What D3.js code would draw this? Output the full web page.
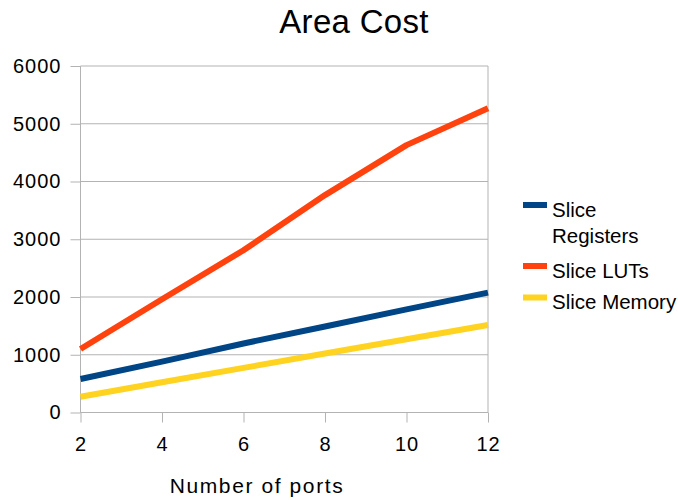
<!DOCTYPE html>
<html>
<head>
<meta charset="utf-8">
<script src="https://cdn.jsdelivr.net/npm/d3@7"></script>
<style>
  html, body { margin: 0; padding: 0; background: #fff; }
  svg { display: block; font-family: "Liberation Sans", Arial, sans-serif; }
</style>
</head>
<body>
<svg id="chart" width="678" height="500"></svg>
<script>
// Number of ports on the x axis
const ports = [2, 4, 6, 8, 10, 12];
// Resource usage per series
const sliceRegisters = [580, 880, 1195, 1490, 1785, 2075];
const sliceLUTs = [1100, 1960, 2810, 3765, 4630, 5270];
const sliceMemory = [272, 525, 772, 1022, 1268, 1515];
const seriesNames = ["Slice Registers", "Slice LUTs", "Slice Memory"];
const seriesColors = ["#004586", "#ff420e", "#ffd320"];
const yTicks = [0, 1000, 2000, 3000, 4000, 5000, 6000];

const series = [sliceRegisters, sliceLUTs, sliceMemory];

const svg = d3.select("#chart");
const plot = { left: 80.5, right: 488, top: 66, bottom: 412.5 };

const x = d3.scaleLinear().domain([2, 12]).range([plot.left, plot.right]);
const y = d3.scaleLinear().domain([0, 6000]).range([plot.bottom, plot.top]);

// Horizontal grid lines
svg.append("g")
  .selectAll("line")
  .data(yTicks)
  .join("line")
  .attr("x1", plot.left).attr("x2", plot.right)
  .attr("y1", d => y(d)).attr("y2", d => y(d))
  .attr("stroke", "#b3b3b3").attr("stroke-width", 1);

// Right border of the plot area
svg.append("line")
  .attr("x1", plot.right).attr("x2", plot.right)
  .attr("y1", plot.top).attr("y2", plot.bottom)
  .attr("stroke", "#b3b3b3");

// Y axis
const yAxis = svg.append("g")
  .attr("transform", `translate(${plot.left},0)`)
  .call(d3.axisLeft(y).tickValues(yTicks).tickSize(10).tickPadding(9).tickFormat(d3.format("d")));
yAxis.select(".domain").attr("stroke", "#b3b3b3").attr("d", `M0,${plot.top}V${plot.bottom}`);
yAxis.selectAll(".tick line").attr("stroke", "#b3b3b3");
yAxis.selectAll(".tick text")
  .attr("font-size", 20).attr("fill", "#000")
  .attr("letter-spacing", 1)
  .attr("font-family", "Liberation Sans, Arial, sans-serif");

// X axis
const xAxis = svg.append("g")
  .attr("transform", `translate(0,${plot.bottom})`)
  .call(d3.axisBottom(x).tickValues(ports).tickSize(10).tickPadding(14).tickFormat(d3.format("d")));
xAxis.select(".domain").attr("stroke", "#b3b3b3").attr("d", `M${plot.left},0H${plot.right}`);
xAxis.selectAll(".tick line").attr("stroke", "#b3b3b3");
xAxis.selectAll(".tick text")
  .attr("font-size", 20).attr("fill", "#000")
  .attr("letter-spacing", 1)
  .attr("font-family", "Liberation Sans, Arial, sans-serif");

// Series lines
const line = d3.line()
  .x((d, i) => x(ports[i]))
  .y(d => y(d));

svg.append("g")
  .selectAll("path")
  .data(series)
  .join("path")
  .attr("d", d => line(d))
  .attr("fill", "none")
  .attr("stroke", (d, i) => seriesColors[i])
  .attr("stroke-width", 6)
  .attr("stroke-linejoin", "round");

// Title
svg.append("text")
  .attr("x", 354).attr("y", 33)
  .attr("text-anchor", "middle")
  .attr("font-size", 33)
  .attr("letter-spacing", 0.3)
  .attr("fill", "#000")
  .text("Area Cost");

// X axis title
svg.append("text")
  .attr("x", 257).attr("y", 493)
  .attr("text-anchor", "middle")
  .attr("font-size", 21)
  .attr("letter-spacing", 1.6)
  .attr("fill", "#000")
  .text("Number of ports");

// Legend
const legendItems = [
  { lines: ["Slice", "Registers"], swatchY: 205 },
  { lines: ["Slice LUTs"], swatchY: 266 },
  { lines: ["Slice Memory"], swatchY: 297.5 }
];
const legend = svg.append("g");
legendItems.forEach((item, i) => {
  legend.append("rect")
    .attr("x", 523).attr("y", item.swatchY - 3)
    .attr("width", 24).attr("height", 6)
    .attr("fill", seriesColors[i]);
  const t = legend.append("text")
    .attr("x", 552).attr("y", item.swatchY + 11.5)
    .attr("font-size", 20.5).attr("fill", "#000");
  item.lines.forEach((ln, j) => {
    t.append("tspan").attr("x", 552).attr("dy", j === 0 ? 0 : 26.8).text(ln);
  });
});
</script>
</body>
</html>
